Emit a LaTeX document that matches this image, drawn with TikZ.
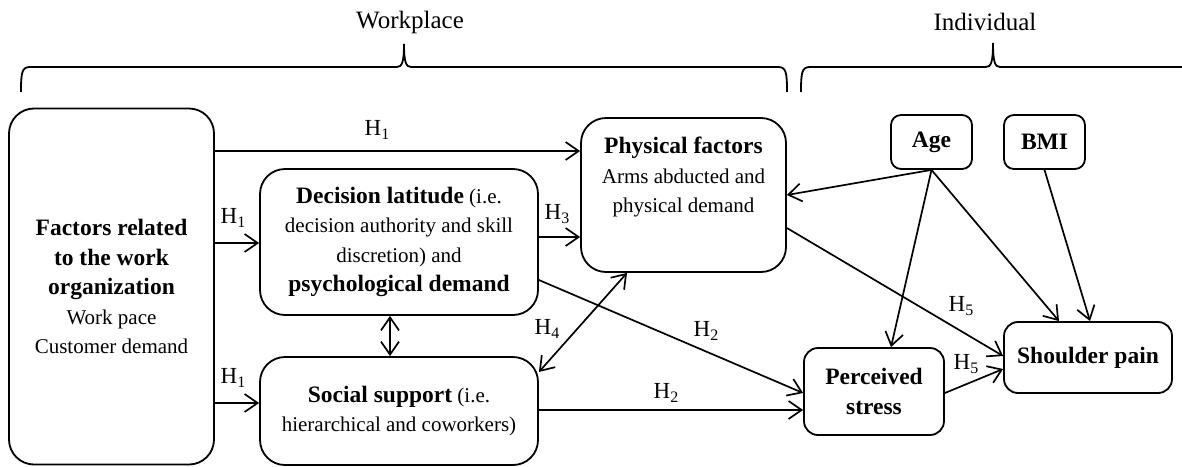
\documentclass[tikz,border=0pt]{standalone}
\usepackage{fontspec}
\setmainfont{Liberation Serif}
\usetikzlibrary{arrows.meta}
\newcommand\B[1]{{\fontsize{23.5}{29.5}\selectfont\bfseries #1}}
\newcommand\Hs[1]{H\raisebox{-0.3ex}{\fontsize{16}{16}\selectfont #1}}
\begin{document}
\begin{tikzpicture}[x=1pt,y=-1pt,
  box/.style={draw,line width=1.8pt,rounded corners=#1,align=center,inner sep=0pt,font=\fontsize{21}{29.5}\selectfont},
  box/.default=25pt,
  txt/.style={align=center,inner sep=0pt,font=\fontsize{21}{29.5}\selectfont},
  arr/.style={line width=1.7pt,line join=round,-{Straight Barb[length=13pt,width=18pt]}},
  darr/.style={line width=1.7pt,line join=round,{Straight Barb[length=13pt,width=18pt]}-{Straight Barb[length=13pt,width=18pt]}},
  hl/.style={inner sep=0pt,font=\fontsize{23}{26}\selectfont},
  hdr/.style={inner sep=0pt,font=\fontsize{25}{28}\selectfont},
  brace/.style={line width=1.8pt}
]
\useasboundingbox (0,0) rectangle (1182,466);

% headers and braces
\node[hdr] (wp) at (410,22) {Workplace};
\node[hdr] (ind) at (985,22) {Individual};
\draw[brace] (21,92) .. controls (21,72) and (22,67) .. (30,67) -- (397,67)
  .. controls (402,67) and (404,62) .. (404,44)
  .. controls (404,62) and (406,67) .. (411,67) -- (778,67)
  .. controls (786,67) and (787,72) .. (787,92);
\draw[brace] (801,92) .. controls (801,72) and (802,67) .. (810,67) -- (986,67)
  .. controls (991,67) and (993,62) .. (993,43)
  .. controls (993,62) and (995,67) .. (1000,67) -- (1182,67);

% boxes
\node[box, minimum width=205pt, minimum height=356pt] (org) at (111.5,286.5)
  {\B{Factors related}\\\B{to the work}\\\B{organization}\\Work pace\\Customer demand};
\node[box, minimum width=278pt, minimum height=146pt] (dec) at (399,242)
  {\B{Decision latitude} (i.e.\\decision authority and skill\\discretion) and\\\B{psychological demand}};
\node[box, minimum width=278pt, minimum height=108pt] (soc) at (399,411)
  {\B{Social support} (i.e.\\hierarchical and coworkers)};
\node[box, minimum width=205pt, minimum height=154pt] (phys) at (683.5,195) {};
\node[txt] (physt) at (683.5,177) {\B{Physical factors}\\Arms abducted and\\physical demand};
\node[box=10pt, minimum width=81pt, minimum height=54pt] (age) at (931.5,142) {\B{Age}};
\node[box=10pt, minimum width=81pt, minimum height=54pt] (bmi) at (1044.5,142) {\B{BMI}};
\node[box=14pt, minimum width=140pt, minimum height=87pt] (stress) at (874,391.5) {\B{Perceived}\\\B{stress}};
\node[box=14pt, minimum width=168pt, minimum height=71pt] (sh) at (1088,357.5) {\B{Shoulder pain}};

% connectors
\draw[arr] (org.east |- 0,151) -- (phys.west |- 0,151);
\draw[arr] (org.east |- 0,243) -- (dec.west |- 0,243);
\draw[arr] (org.east |- 0,403) -- (soc.west |- 0,403);
\draw[arr] (dec.east |- 0,237) -- (phys.west |- 0,237);
\draw[darr] (dec.south -| 390,0) -- (soc.north -| 390,0);
\draw[arr] (dec.east |- 0,280) -- (stress.west |- 0,393);
\draw[arr] (soc.east |- 0,410) -- (stress.west |- 0,410);
\draw[darr] (phys.south -| 627,0) -- (soc.east |- 0,372);
\draw[arr] (age.south) -- (phys.east);
\draw[arr] (age.south) -- (stress.north -| 891,0);
\draw[arr] (age.south) -- (sh.north -| 1059,0);
\draw[arr] (bmi.south) -- (sh.north -| 1090,0);
\draw[arr] (phys.east |- 0,228) -- (sh.west |- 0,356);
\draw[arr] (stress.east |- 0,393) -- (sh.west |- 0,369);

% labels
\node[hl] (h1a) at (377,130) {\Hs{1}};
\node[hl] (h1b) at (233,218) {\Hs{1}};
\node[hl] (h1c) at (233,378) {\Hs{1}};
\node[hl] (h3) at (557,214) {\Hs{3}};
\node[hl] (h4) at (547,329) {\Hs{4}};
\node[hl] (h2a) at (706,331) {\Hs{2}};
\node[hl] (h2b) at (666,393) {\Hs{2}};
\node[hl] (h5a) at (961,306) {\Hs{5}};
\node[hl] (h5b) at (966,364) {\Hs{5}};
\end{tikzpicture}
\end{document}
